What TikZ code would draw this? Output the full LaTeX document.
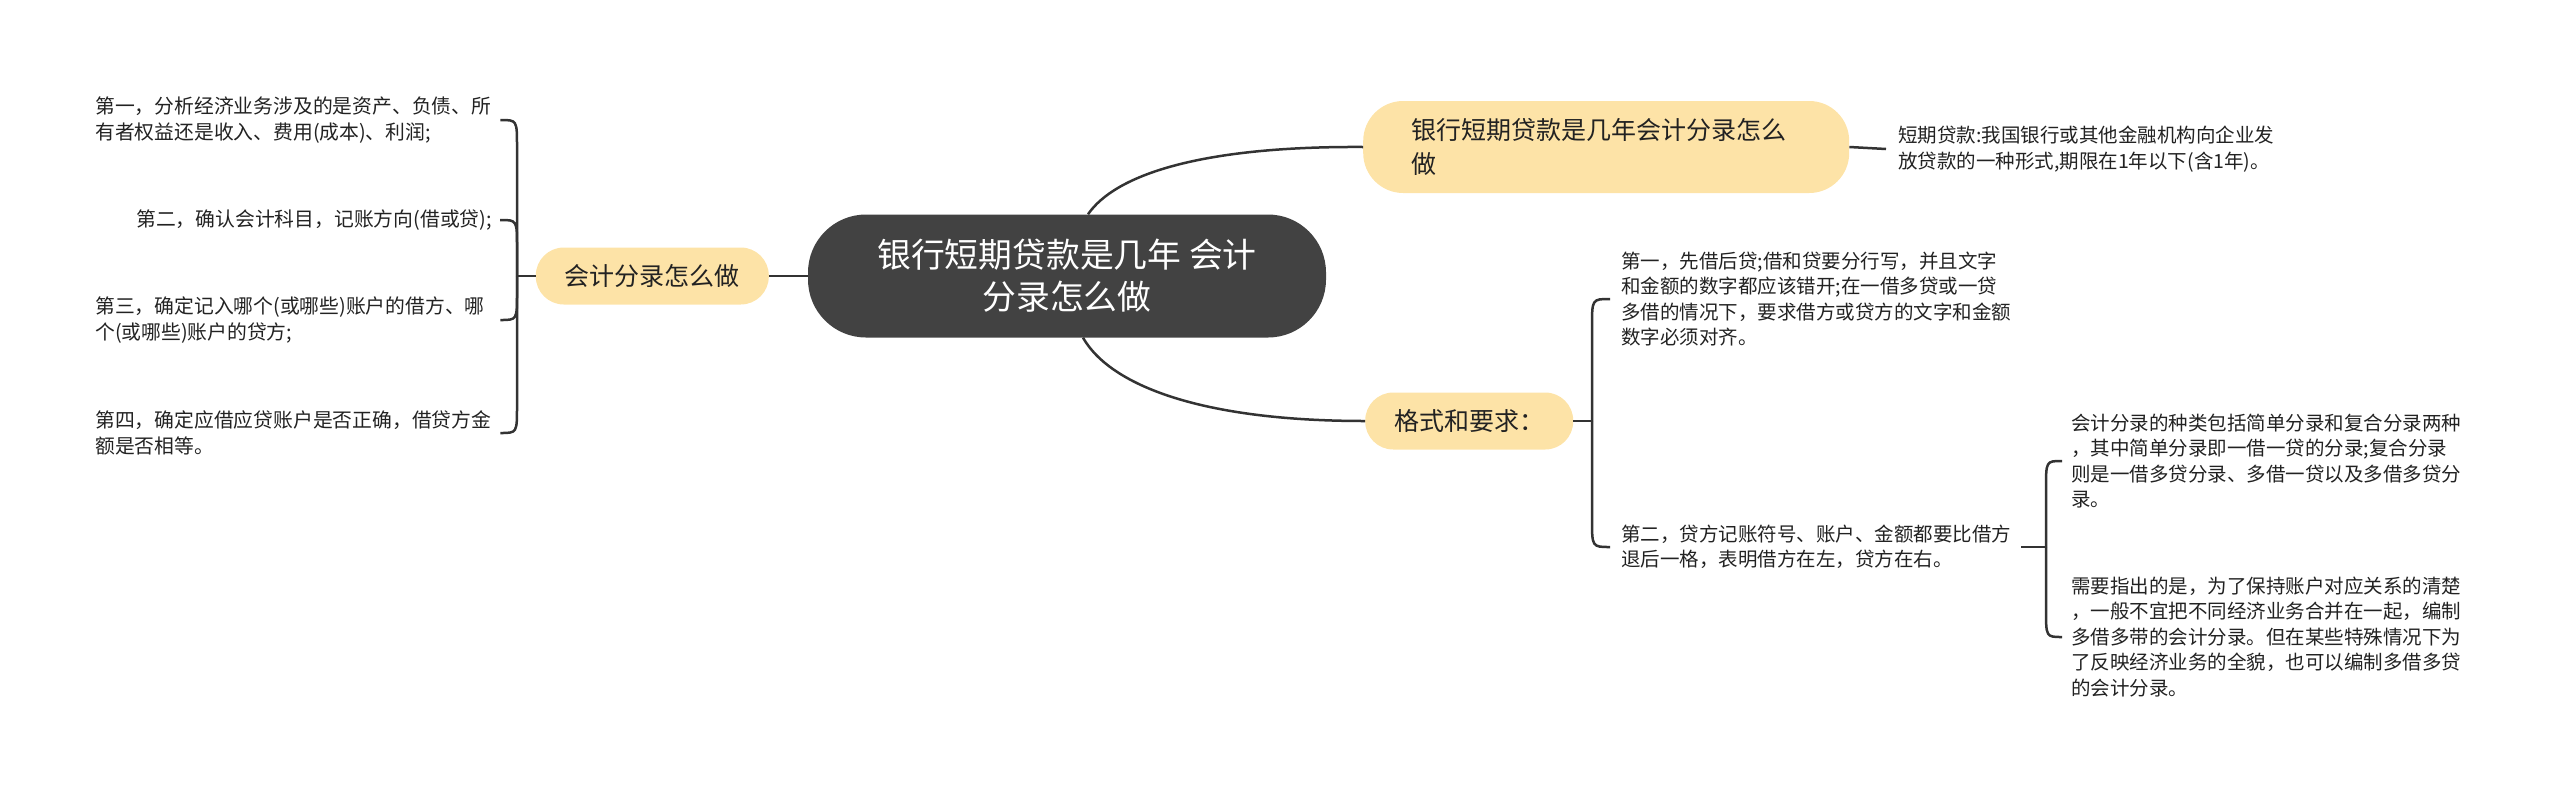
\documentclass[tikz,border=0pt]{standalone}
\usepackage{fontspec}
\setmainfont{Noto Sans CJK SC}
\usetikzlibrary{calc}
\definecolor{yel}{HTML}{FDE3A7}
\definecolor{rootc}{HTML}{424242}
\definecolor{linec}{HTML}{333333}
\definecolor{txt}{HTML}{222222}
\newcommand\bracelink[3]{\draw[conn] (#1) -- ($(#1 |- #2)+(0,#3)$) .. controls (#1 |- #2) .. (#2);}
\begin{document}
\begin{tikzpicture}[x=1pt,y=-1pt,
  conn/.style={draw=linec, line width=2.5pt},
  root/.style={fill=rootc, text=white, rounded corners=58pt, minimum width=518pt, minimum height=123pt, align=center, font=\fontsize{33.8}{42}\selectfont},
  sub/.style={fill=yel, text=txt, rounded corners=28pt, minimum height=57pt, inner xsep=29pt, font=\fontsize{25}{34}\selectfont},
  leaf/.style={inner sep=0pt, align=left, text=txt, font=\fontsize{19.5}{25.5}\selectfont},
  lleaf/.style={leaf, font=\fontsize{19.8}{25.8}\selectfont}]
\useasboundingbox (0,0) rectangle (2560,793);
% main nodes
\node[root] (root) at (1067,276) {银行短期贷款是几年 会计\\分录怎么做};
\node[sub, anchor=east] (nL) at (769,276) {会计分录怎么做};
\node[sub, anchor=west, align=left, text width=390pt, inner xsep=48pt, minimum height=92pt, rounded corners=40pt] (n1) at (1363,147) {银行短期贷款是几年会计分录怎么\\做};
\node[sub, anchor=west] (n2) at (1365,421) {格式和要求：};
% left leaves
\node[lleaf, anchor=west, text width=400pt] (l1) at (95,120) {第一，分析经济业务涉及的是资产、负债、所\\有者权益还是收入、费用(成本)、利润;};
\node[lleaf, anchor=east] (l2) at (492,220) {第二，确认会计科目，记账方向(借或贷);};
\node[lleaf, anchor=west, text width=400pt] (l3) at (95,320) {第三，确定记入哪个(或哪些)账户的借方、哪\\个(或哪些)账户的贷方;};
\node[lleaf, anchor=west, text width=400pt] (l4) at (95,433) {第四，确定应借应贷账户是否正确，借贷方金\\额是否相等。};
% right leaves
\node[leaf, anchor=west] (lt) at (1898,149) {短期贷款:我国银行或其他金融机构向企业发\\放贷款的一种形式,期限在1年以下(含1年)。};
\node[leaf, anchor=west] (lA) at (1621,299) {第一，先借后贷;借和贷要分行写，并且文字\\和金额的数字都应该错开;在一借多贷或一贷\\多借的情况下，要求借方或贷方的文字和金额\\数字必须对齐。};
\node[leaf, anchor=west] (lB) at (1621,547) {第二，贷方记账符号、账户、金额都要比借方\\退后一格，表明借方在左，贷方在右。};
\node[leaf, anchor=west] (lC) at (2071,461) {会计分录的种类包括简单分录和复合分录两种\\，其中简单分录即一借一贷的分录;复合分录\\则是一借多贷分录、多借一贷以及多借多贷分\\录。};
\node[leaf, anchor=west] (lD) at (2071,637) {需要指出的是，为了保持账户对应关系的清楚\\，一般不宜把不同经济业务合并在一起，编制\\多借多带的会计分录。但在某些特殊情况下为\\了反映经济业务的全貌，也可以编制多借多贷\\的会计分录。};
% connectors from root
\draw[conn] (root.west) -- (nL.east);
\draw[conn] ([xshift=21pt]root.north) .. controls (1115,175) and (1200,146) .. (n1.west);
\draw[conn] ([xshift=16pt]root.south) .. controls (1110,385) and (1200,421) .. (n2.west);
\draw[conn] (n1.east) -- ([xshift=-12pt]lt.west);
% left bracket
\coordinate (jL) at (517,276);
\draw[conn] (nL.west) -- (jL);
\coordinate (e1) at ([xshift=5pt]l1.east);
\coordinate (e2) at ([xshift=8pt]l2.east);
\coordinate (e3) at ([xshift=5pt]l3.east);
\coordinate (e4) at ([xshift=5pt]l4.east);
\bracelink{jL}{e1}{27}
\bracelink{jL}{e2}{27}
\bracelink{jL}{e3}{-27}
\bracelink{jL}{e4}{-27}
% right bracket
\coordinate (jR) at (1592,421);
\draw[conn] (n2.east) -- (jR);
\coordinate (eA) at ([xshift=-11pt]lA.west);
\coordinate (eB) at ([xshift=-11pt]lB.west);
\bracelink{jR}{eA}{28}
\bracelink{jR}{eB}{-28}
% second right bracket
\coordinate (jB) at (2046,547);
\draw[conn] ([xshift=10pt]lB.east) -- (jB);
\coordinate (eC) at ([xshift=-9pt]lC.west);
\coordinate (eD) at ([xshift=-9pt]lD.west);
\bracelink{jB}{eC}{28}
\bracelink{jB}{eD}{-28}
\end{tikzpicture}
\end{document}
